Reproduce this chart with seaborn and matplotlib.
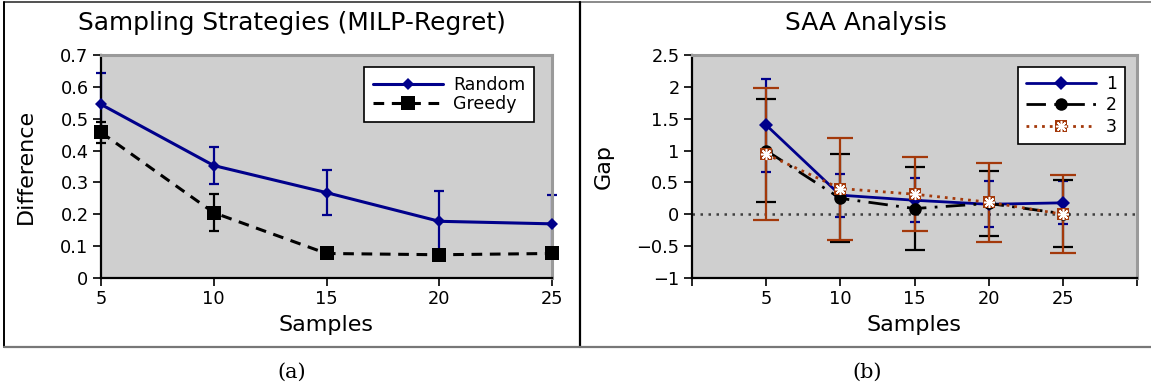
import matplotlib
matplotlib.use("Agg")
import matplotlib.pyplot as plt
import seaborn as sns
import pandas as pd
import numpy as np
from matplotlib.lines import Line2D
from matplotlib.legend_handler import HandlerTuple

# ---- data ----
samples = [5, 10, 15, 20, 25]

random_mean = [0.545, 0.353, 0.268, 0.178, 0.170]
random_err = [0.100, 0.057, 0.071, 0.096, 0.089]
greedy_mean = [0.457, 0.205, 0.077, 0.073, 0.077]
greedy_err = [0.032, 0.058, 0.0, 0.0, 0.0]

saa1_mean = [1.40, 0.30, 0.22, 0.157, 0.18]
saa1_err = [0.73, 0.34, 0.345, 0.36, 0.34]
saa2_mean = [1.00, 0.25, 0.09, 0.17, 0.01]
saa2_err = [0.815, 0.69, 0.655, 0.51, 0.53]
saa3_mean = [0.944, 0.404, 0.315, 0.19, 0.0]
saa3_err = [1.035, 0.80, 0.585, 0.62, 0.61]

NAVY = "#00008B"
BLACK = "#000000"
RUST = "#A3390B"
BG = "#CFCFCF"

sns.set_theme(style="white")
plt.rcParams["font.family"] = ["DejaVu Sans"]
plt.rcParams.update({"text.color": "black", "axes.labelcolor": "black",
                     "xtick.color": "black", "ytick.color": "black"})

fig = plt.figure(figsize=(11.51, 3.90), dpi=100)
W, H = 1151, 390


def px_axes(l, t, r, b):
    return fig.add_axes([l / W, 1 - b / H, (r - l) / W, (b - t) / H])


def style_axes(ax):
    ax.set_facecolor(BG)
    for s in ["left", "bottom"]:
        ax.spines[s].set_color("black")
        ax.spines[s].set_linewidth(1.6)
    for s in ["top", "right"]:
        ax.spines[s].set_color("#9a9a9a")
        ax.spines[s].set_linewidth(2.2)
    ax.tick_params(axis="both", direction="out", length=6, width=1.2,
                   color="black", labelsize=12.8, pad=3,
                   bottom=True, left=True)
    ax.grid(False)


# ---- panel (a) ----
ax1 = px_axes(101, 55, 552, 278)
style_axes(ax1)

ax1.errorbar(samples, random_mean, yerr=random_err, fmt="none",
             ecolor=NAVY, elinewidth=1.6, capsize=3.5, capthick=1.6, zorder=2,
             clip_on=False)
ax1.errorbar(samples, greedy_mean, yerr=greedy_err, fmt="none",
             ecolor=BLACK, elinewidth=1.6, capsize=3.5, capthick=1.6, zorder=2,
             clip_on=False)

df_a = pd.DataFrame({"Samples": samples, "Random": random_mean, "Greedy": greedy_mean})
sns.lineplot(data=df_a, x="Samples", y="Random", ax=ax1, color=NAVY,
             linewidth=2.2, marker="D", markersize=6, markeredgewidth=0,
             zorder=3, label="Random", clip_on=False)
sns.lineplot(data=df_a, x="Samples", y="Greedy", ax=ax1, color=BLACK,
             linewidth=2.2, linestyle=(0, (3.5, 2.5)), marker="s",
             markersize=10, markeredgewidth=0, zorder=3, label="Greedy",
             clip_on=False)

ax1.set_xlim(5, 25)
ax1.set_ylim(0, 0.7)
ax1.set_xticks([5, 10, 15, 20, 25])
ax1.set_yticks(np.arange(0, 0.71, 0.1))
ax1.set_yticklabels(["0", "0.1", "0.2", "0.3", "0.4", "0.5", "0.6", "0.7"])
ax1.set_xlabel("Samples", fontsize=16)
ax1.set_ylabel("Difference", fontsize=16)
ax1.xaxis.set_label_coords(0.5, -0.166)
ax1.yaxis.set_label_coords(-0.144, 0.5)
leg1 = ax1.legend(loc="upper right", bbox_to_anchor=(0.96, 0.946),
                  borderaxespad=0, fontsize=12.5, frameon=True, fancybox=False,
                  edgecolor="black", framealpha=1, handlelength=4.0,
                  labelspacing=0.1, borderpad=0.5, handletextpad=0.6)
leg1.get_frame().set_linewidth(1.2)

# ---- panel (b) ----
ax2 = px_axes(692, 55, 1137, 278)
style_axes(ax2)

ax2.axhline(0, color="#404040", linewidth=1.8, linestyle=(0, (1, 2.2)), zorder=1)
ax2.errorbar(samples, saa1_mean, yerr=saa1_err, fmt="none",
             ecolor=NAVY, elinewidth=1.6, capsize=3.5, capthick=1.6, zorder=2)
ax2.errorbar(samples, saa2_mean, yerr=saa2_err, fmt="none",
             ecolor=BLACK, elinewidth=1.6, capsize=7.5, capthick=1.6, zorder=2)
ax2.errorbar(samples, saa3_mean, yerr=saa3_err, fmt="none",
             ecolor=RUST, elinewidth=1.6, capsize=9.5, capthick=1.6, zorder=2)

df_b = pd.DataFrame({"Samples": samples, "1": saa1_mean, "2": saa2_mean, "3": saa3_mean})
sns.lineplot(data=df_b, x="Samples", y="1", ax=ax2, color=NAVY,
             linewidth=2.0, marker="D", markersize=7, markeredgewidth=0,
             zorder=3, legend=False)
sns.lineplot(data=df_b, x="Samples", y="2", ax=ax2, color=BLACK,
             linewidth=2.0, linestyle=(0, (7, 3, 1, 3)), marker="o",
             markersize=9, markeredgewidth=0, zorder=3, legend=False)
sns.lineplot(data=df_b, x="Samples", y="3", ax=ax2, color=RUST,
             linewidth=2.0, linestyle=(0, (1, 1.8)), marker="s",
             markersize=9, markeredgewidth=0, zorder=4, legend=False)
ax2.plot(df_b["Samples"], df_b["3"], linestyle="none", marker=(8, 2, 0),
         markersize=8, markeredgecolor="white", markeredgewidth=1.1, zorder=5)

ax2.set_xlim(0, 30)
ax2.set_ylim(-1, 2.5)
ax2.set_xticks([0, 5, 10, 15, 20, 25, 30])
ax2.set_xticklabels(["", "5", "10", "15", "20", "25", ""])
ax2.set_yticks([-1, -0.5, 0, 0.5, 1, 1.5, 2, 2.5])
ax2.set_yticklabels(["\u22121", "\u22120.5", "0", "0.5", "1", "1.5", "2", "2.5"])
ax2.set_xlabel("Samples", fontsize=16)
ax2.set_ylabel("Gap", fontsize=16)
ax2.xaxis.set_label_coords(0.5, -0.166)
ax2.yaxis.set_label_coords(-0.176, 0.5)

h1 = Line2D([], [], color=NAVY, linewidth=2.0, marker="D", markersize=7, markeredgewidth=0)
h2 = Line2D([], [], color=BLACK, linewidth=2.0, linestyle=(0, (7, 3, 1, 3)),
            marker="o", markersize=9, markeredgewidth=0)
h3 = Line2D([], [], color=RUST, linewidth=2.0, linestyle=(0, (1, 1.8)),
            marker="s", markersize=9, markeredgewidth=0)
h3s = Line2D([], [], linestyle="none", marker=(8, 2, 0), markersize=8,
             markeredgecolor="white", markeredgewidth=1.1)
leg2 = ax2.legend([h1, h2, (h3, h3s)], ["1", "2", "3"],
                  handler_map={tuple: HandlerTuple(ndivide=1, pad=0)},
                  loc="upper right", bbox_to_anchor=(0.973, 0.946),
                  borderaxespad=0, fontsize=12.5, frameon=True, fancybox=False,
                  edgecolor="black", framealpha=1, handlelength=4.0,
                  labelspacing=0.2, borderpad=0.45, handletextpad=0.6)
leg2.get_frame().set_linewidth(1.2)

# ---- titles, captions and panel frames ----
fig.text(292 / W, 1 - 23 / H, "Sampling Strategies (MILP-Regret)",
         ha="center", va="center", fontsize=17.9)
fig.text(866 / W, 1 - 23 / H, "SAA Analysis", ha="center", va="center", fontsize=17.9)
fig.text(292 / W, 1 - 372 / H, "(a)", ha="center", va="center",
         fontsize=15, family=["DejaVu Serif"])
fig.text(867 / W, 1 - 372 / H, "(b)", ha="center", va="center",
         fontsize=15, family=["DejaVu Serif"])


def fig_line(x0, y0, x1, y1, color, lw):
    fig.add_artist(Line2D([x0 / W, x1 / W], [1 - y0 / H, 1 - y1 / H],
                          color=color, linewidth=lw, transform=fig.transFigure))


fig_line(4, 2, 580, 2, "#333333", 1.2)
fig_line(580, 2, 1151, 2, "#777777", 1.2)
fig_line(4, 2, 4, 347, "black", 1.4)
fig_line(580, 2, 580, 347, "black", 1.6)
fig_line(4, 347, 1151, 347, "#777777", 1.6)

fig.savefig("out.png", dpi=100)
